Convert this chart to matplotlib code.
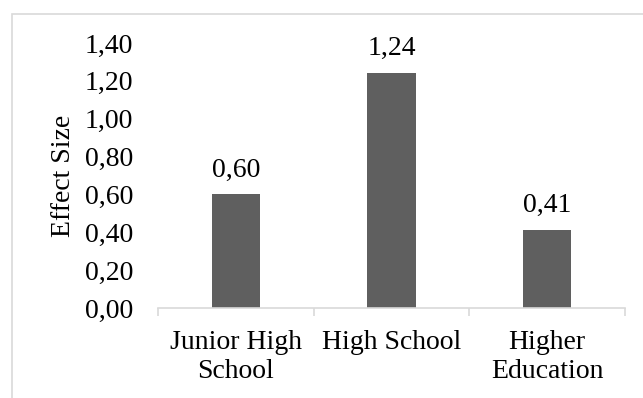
import matplotlib.pyplot as plt
from matplotlib.patches import Rectangle
from matplotlib.ticker import FuncFormatter, FixedLocator

categories = ['Junior High\nSchool', 'High School', 'Higher\nEducation']
effect_sizes = [0.60, 1.24, 0.41]
y_ticks = [0.0, 0.2, 0.4, 0.6, 0.8, 1.0, 1.2, 1.4]

W, H = 643, 398
plt.rcParams['font.family'] = ['Liberation Serif', 'DejaVu Serif']
FS = 20

fig = plt.figure(figsize=(W / 100, H / 100), dpi=100)

# chart-area border (runs off the right and bottom edge)
fig.patches.append(Rectangle((12 / W, -0.05), 1.0, 1 - 14 / H + 0.05, transform=fig.transFigure,
                             fill=False, edgecolor='#d9d9d9', linewidth=1.2))

ax = fig.add_axes([158 / W, 1 - 308 / H, (625 - 158) / W, (308 - 43) / H])
x = list(range(len(categories)))
bars = ax.bar(x, effect_sizes, width=0.31, color='#5f5f5f')

ax.set_xlim(-0.5, len(categories) - 0.5)
ax.set_ylim(0, 1.4)
ax.set_yticks(y_ticks)
ax.yaxis.set_major_formatter(FuncFormatter(lambda v, p: f'{v:.2f}'.replace('.', ',')))
ax.tick_params(axis='y', length=0, pad=18, labelsize=FS)

ax.set_xticks(x)
ax.set_xticklabels(categories, linespacing=1.2)
ax.tick_params(axis='x', which='major', length=0, pad=16, labelsize=FS)
ax.xaxis.set_minor_locator(FixedLocator([-0.5, 0.5, 1.5, 2.5]))
ax.tick_params(axis='x', which='minor', length=6, width=1.2, color='#d9d9d9')

for side in ['top', 'right', 'left']:
    ax.spines[side].set_visible(False)
ax.spines['bottom'].set_color('#d9d9d9')
ax.spines['bottom'].set_linewidth(1.2)

for bar, v in zip(bars, effect_sizes):
    ax.annotate(f'{v:.2f}'.replace('.', ','), (bar.get_x() + bar.get_width() / 2, v),
                xytext=(0, 12), textcoords='offset pixels', ha='center', va='bottom', fontsize=FS)

fig.text(63 / W, 1 - 176 / H, 'Effect Size', rotation=90, ha='center', va='center', fontsize=FS)

fig.savefig('out.png', dpi=100)
